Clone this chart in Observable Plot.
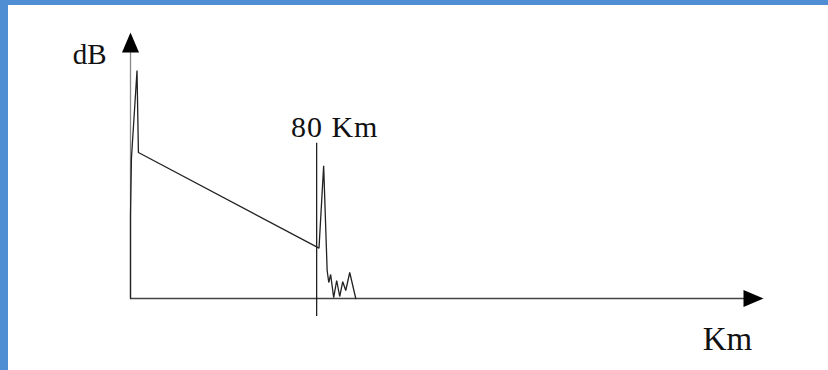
<!DOCTYPE html>
<html>
<head>
<meta charset="utf-8">
<script src="https://cdn.jsdelivr.net/npm/d3@7"></script>
<script src="https://cdn.jsdelivr.net/npm/@observablehq/plot@0.6"></script>
<style>
  html, body { margin: 0; padding: 0; background: #fff; }
  #wrap { position: relative; width: 828px; height: 370px; overflow: hidden; }
  #wrap svg { position: absolute; left: 0; top: 0; }
  .bar { position: absolute; background: #4F8ED3; }
</style>
</head>
<body>
<div id="wrap">
  <div id="chart"></div>
  <div class="bar" style="left:0;top:0;width:828px;height:5px"></div>
  <div class="bar" style="left:0;top:0;width:8px;height:370px"></div>
</div>
<script>
// OTDR trace (distance in km, level in relative dB)
const distKm  = [0, 0, 0.4, 2.8, 3.4, 81, 83, 84.5, 85.2, 86, 87.3, 88.6, 89.9, 91.2, 92.5, 94.2, 96.8];
const levelDb = [0, 10.4, 17.5, 28.5, 18.25, 6.3, 16.6, 3.5, 2, 3, 0.1, 2.25, 0.25, 2.1, 1, 3.25, 0];

// axis extents and event marker
const xMax = 272;
const yMax = 33.25;
const eventKm = [80];
const eventSpan = [-2.25, 19.4];

// labels
const yLabel = "dB";
const xLabel = "Km";
const eventLabel = "80 Km";

const trace = distKm.map((d, i) => ({km: d, db: levelDb[i]}));

const arrowHead = {
  draw(ctx) {
    ctx.moveTo(0, 0);
    ctx.lineTo(8.5, 20);
    ctx.lineTo(-8.5, 20);
    ctx.closePath();
  }
};

const font = "Liberation Serif";

const chart = Plot.plot({
  width: 828,
  height: 370,
  marginLeft: 130,
  marginRight: 65,
  marginTop: 32,
  marginBottom: 72,
  x: {domain: [0, xMax], axis: null},
  y: {domain: [0, yMax], axis: null},
  style: {background: "transparent"},
  marks: [
    Plot.ruleY([0], {x1: 0, x2: xMax - 2, stroke: "#444", strokeWidth: 1.3}),
    Plot.ruleX([0], {y1: 0, y2: yMax - 1, stroke: "#888", strokeWidth: 1.3}),
    Plot.ruleX(eventKm, {y1: eventSpan[0], y2: eventSpan[1], stroke: "#111", strokeWidth: 1.2}),
    Plot.line(trace, {x: "km", y: "db", stroke: "#222", strokeWidth: 1.3, strokeLinejoin: "miter"}),
    Plot.dot([{x: 0, y: yMax}], {x: "x", y: "y", symbol: arrowHead, fill: "#000", stroke: null, r: 10}),
    Plot.dot([{x: xMax, y: 0}], {x: "x", y: "y", symbol: arrowHead, fill: "#000", stroke: null, r: 10, rotate: 90}),
    Plot.text([yLabel], {x: 0, y: yMax, text: d => d, textAnchor: "end", dx: -24, dy: 22, fontSize: 29, fontFamily: font, fill: "#111"}),
    Plot.text([eventLabel], {x: eventKm[0], y: eventSpan[1], text: d => d, textAnchor: "middle", dx: 18, dy: -16, fontSize: 30, fontFamily: font, fill: "#111", className: "evt"}),
    Plot.text([xLabel], {x: xMax, y: 0, text: d => d, textAnchor: "middle", dx: -36, dy: 41, fontSize: 33, fontFamily: font, fill: "#111"})
  ]
});

d3.select(chart).selectAll(".evt text").attr("letter-spacing", "1px");
document.getElementById("chart").appendChild(chart);
</script>
</body>
</html>
